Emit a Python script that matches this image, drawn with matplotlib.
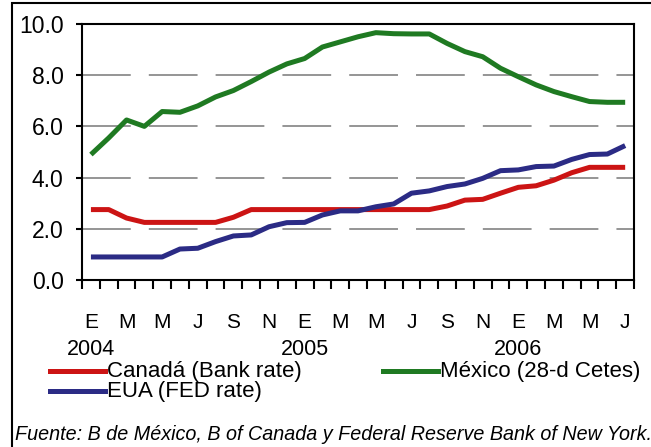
import numpy as np
import matplotlib.pyplot as plt
from matplotlib.lines import Line2D
from matplotlib.patches import Rectangle

plt.rcParams['font.family'] = ['Liberation Sans', 'DejaVu Sans']

# Monthly data, Jan 2004 - Jul 2006 (%)
month_labels = ['E', '', 'M', '', 'M', '', 'J', '', 'S', '', 'N', '',
                'E', '', 'M', '', 'M', '', 'J', '', 'S', '', 'N', '',
                'E', '', 'M', '', 'M', '', 'J']
years = ['2004', '2005', '2006']
year_pos = [0, 12, 24]

mexico = [4.9, 5.55, 6.25, 6.0, 6.58, 6.55, 6.8, 7.15, 7.4, 7.75, 8.12, 8.44,
          8.65, 9.1, 9.3, 9.5, 9.66, 9.62, 9.61, 9.61, 9.24, 8.92, 8.72, 8.27,
          7.94, 7.62, 7.36, 7.16, 6.97, 6.94, 6.94]
canada = [2.75, 2.75, 2.42, 2.25, 2.25, 2.25, 2.25, 2.25, 2.45, 2.75, 2.75, 2.75,
          2.75, 2.75, 2.75, 2.75, 2.75, 2.75, 2.75, 2.75, 2.89, 3.12, 3.15, 3.39,
          3.62, 3.68, 3.9, 4.19, 4.4, 4.4, 4.4]
eua = [0.9, 0.9, 0.9, 0.9, 0.9, 1.21, 1.24, 1.5, 1.72, 1.76, 2.08, 2.24,
       2.25, 2.54, 2.7, 2.7, 2.86, 2.97, 3.39, 3.48, 3.65, 3.75, 3.97, 4.27,
       4.3, 4.43, 4.45, 4.71, 4.9, 4.92, 5.25]

red = '#cc1414'
green = '#1f7a22'
blue = '#2b2b85'

x = np.arange(len(mexico))

fig = plt.figure(figsize=(6.51, 4.47), dpi=100)
ax = fig.add_axes([0.126, 0.3736, 0.848, 0.5728])

ax.plot(x, mexico, color=green, lw=3.6, solid_capstyle='butt')
ax.plot(x, canada, color=red, lw=3.6, solid_capstyle='butt')
ax.plot(x, eua, color=blue, lw=3.6, solid_capstyle='butt')

ax.set_xlim(-0.5, len(x) - 0.5)
ax.set_ylim(0, 10)
ax.set_yticks(np.arange(0, 10.1, 2))
ax.set_yticklabels(['%.1f' % v for v in np.arange(0, 10.1, 2)], fontsize=16.5)
ax.tick_params(axis='y', length=4.3, width=1.5, pad=9, direction='out')
for v in [2, 4, 6, 8]:
    ax.axhline(v, color='#8c8c8c', lw=1.3, dashes=(27, 10), zorder=0)

# month boundaries as major ticks, labels at month centres
ax.set_xticks(np.arange(-0.5, len(x), 1.0))
ax.set_xticklabels([])
ax.tick_params(axis='x', which='major', length=6.5, width=1.5, direction='out')
ax.set_xticks(x, minor=True)
ax.set_xticklabels(month_labels, minor=True, fontsize=15)
ax.tick_params(axis='x', which='minor', length=0, pad=23.5)

for p, yr in zip(year_pos, years):
    ax.text(p, -2.73, yr, ha='center', va='center', fontsize=15.5,
            transform=ax.transData, clip_on=False)

for s in ax.spines.values():
    s.set_linewidth(1.5)

# legend
W, H = 651.0, 447.0
def leg(x0, x1, y, color, label):
    fig.add_artist(Line2D([x0 / W, x1 / W], [1 - y / H, 1 - y / H],
                          color=color, lw=3.6, transform=fig.transFigure))
    fig.text((x1 + 2) / W, 1 - (y + 1) / H, label, fontsize=16, va='center', ha='left')

leg(50, 105, 371, red, 'Canadá (Bank rate)')
leg(50, 105, 391, blue, 'EUA (FED rate)')
leg(383, 438, 371, green, 'México (28-d Cetes)')

fig.text(15 / W, 1 - 434 / H,
         'Fuente: B de México, B of Canada y Federal Reserve Bank of New York.',
         fontsize=14.2, style='italic', va='center', ha='left')

fig.add_artist(Rectangle((12 / W, -0.1), 1.0, 1.1 - 3 / H, fill=False,
                         edgecolor='black', lw=1.5, transform=fig.transFigure))

fig.savefig('out.png', dpi=100)
